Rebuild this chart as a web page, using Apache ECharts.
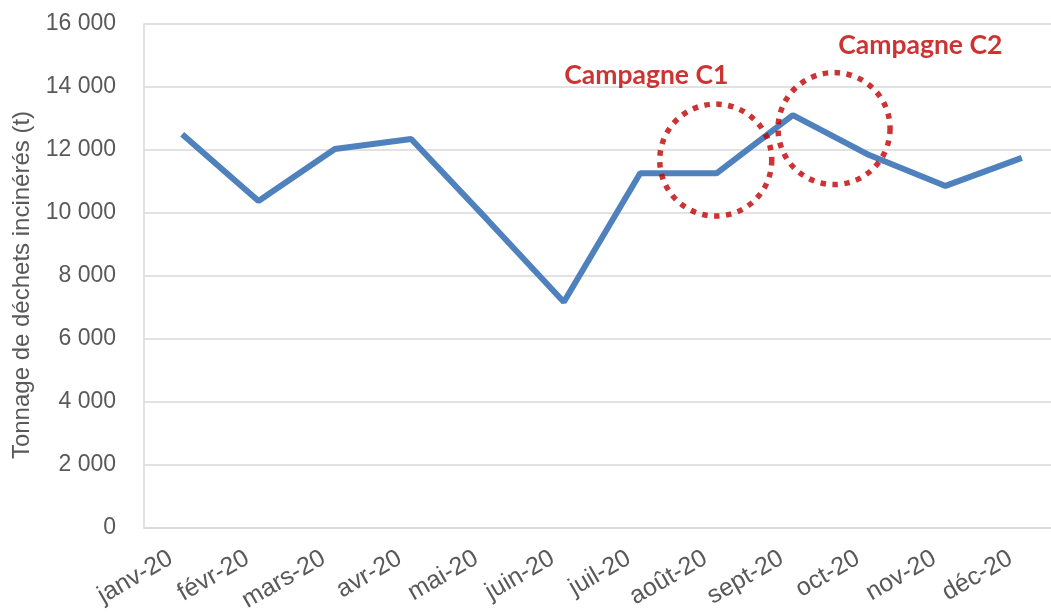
<!DOCTYPE html>
<html>
<head>
<meta charset="utf-8">
<script src="https://cdn.jsdelivr.net/npm/echarts@6/dist/echarts.min.js"></script>
<style>
  html, body { margin: 0; padding: 0; background: #fff; }
  #chart { width: 1051px; height: 613px; }
</style>
</head>
<body>
<div id="chart"></div>
<script>
const months = ['janv-20', 'févr-20', 'mars-20', 'avr-20', 'mai-20', 'juin-20',
    'juil-20', 'août-20', 'sept-20', 'oct-20', 'nov-20', 'déc-20'];
const tonnage = [12500, 10380, 12030, 12350, 9780, 7175, 11260, 11260, 13110, 11840, 10860, 11750];

// campagnes : centre du cercle et position du libellé (index de mois, tonnage)
const campaignNames = ['Campagne C1', 'Campagne C2'];
const campaignCircles = [[6.99, 11680], [8.54, 12680]];
const campaignLabels = [[6.08, 14380], [9.67, 15330]];

const fmt = v => String(v).replace(/\B(?=(\d{3})+(?!\d))/g, ' ');

const myChart = echarts.init(document.getElementById('chart'));

const option = {
    animation: false,
    textStyle: { fontFamily: 'Liberation Sans' },
    grid: {
        left: 144,
        top: 24,
        bottom: 85,
        width: 916,
        outerBoundsMode: 'none'
    },
    xAxis: [
        {
            type: 'category',
            data: months,
            axisLine: { lineStyle: { color: '#d9d9d9', width: 1.5 } },
            axisTick: { show: false },
            axisLabel: {
                rotate: 30,
                margin: 22,
                padding: [0, 13, 0, 0],
                color: '#595959',
                fontSize: 25,
                interval: 0
            }
        },
        {
            type: 'value',
            min: -0.5,
            max: 11.5,
            show: false
        }
    ],
    yAxis: {
        type: 'value',
        min: 0,
        max: 16000,
        interval: 2000,
        name: 'Tonnage de déchets incinérés (t)',
        nameLocation: 'middle',
        nameGap: 110,
        nameTextStyle: { color: '#595959', fontSize: 24, padding: [0, 18, 0, 0] },
        axisLine: { show: true, onZero: false, lineStyle: { color: '#d9d9d9', width: 1.5 } },
        axisTick: { show: false },
        axisLabel: {
            color: '#595959',
            fontSize: 23,
            margin: 28,
            formatter: fmt
        },
        splitLine: { lineStyle: { color: '#d9d9d9', width: 1.5 } }
    },
    series: [
        {
            type: 'line',
            data: tonnage,
            showSymbol: false,
            lineStyle: { color: '#4F81BD', width: 6 },
            itemStyle: { color: '#4F81BD' },
            z: 2
        },
        {
            type: 'scatter',
            xAxisIndex: 1,
            data: campaignCircles,
            symbol: 'circle',
            symbolSize: 112,
            silent: true,
            itemStyle: {
                color: 'transparent',
                borderColor: '#C00000',
                borderWidth: 5.5,
                borderType: [5.5, 6.5]
            },
            z: 3
        },
        {
            type: 'scatter',
            xAxisIndex: 1,
            data: campaignLabels.map((p, i) => ({ value: p, name: campaignNames[i] })),
            symbolSize: 0,
            silent: true,
            label: {
                show: true,
                position: 'inside',
                formatter: '{b}',
                color: '#C00000',
                fontFamily: 'Lato',
                fontWeight: 'bold',
                fontSize: 26.5
            },
            z: 4
        }
    ]
};

myChart.setOption(option);
</script>
</body>
</html>
